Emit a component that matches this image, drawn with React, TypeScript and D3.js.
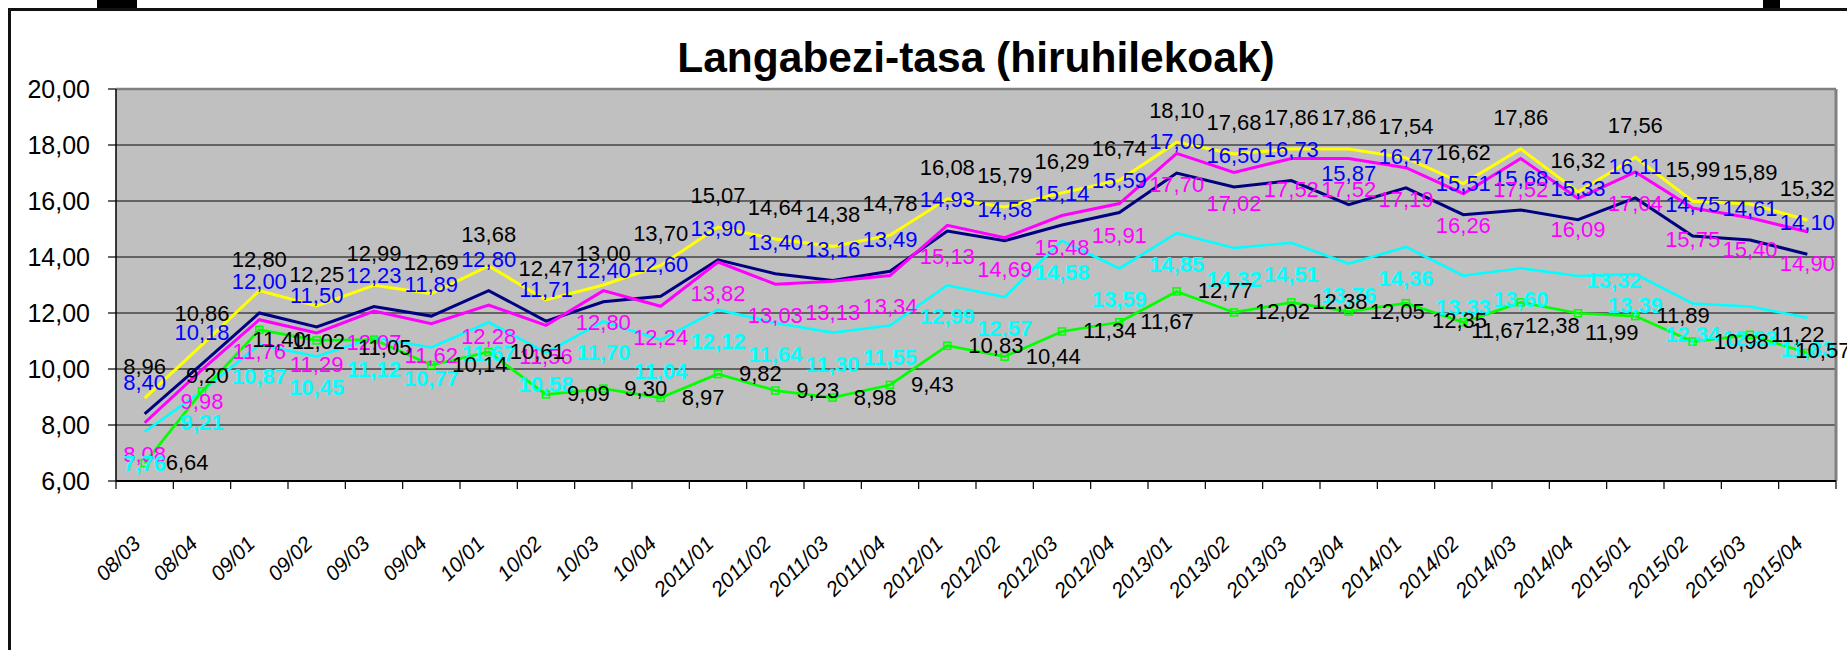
import React from "react";
import * as d3 from "d3";

const categories = ["08/03","08/04","09/01","09/02","09/03","09/04","10/01","10/02","10/03","10/04","2011/01","2011/02","2011/03","2011/04","2012/01","2012/02","2012/03","2012/04","2013/01","2013/02","2013/03","2013/04","2014/01","2014/02","2014/03","2014/04","2015/01","2015/02","2015/03","2015/04"];

const yellowValues = [8.96,10.86,12.80,12.25,12.99,12.69,13.68,12.47,13.00,13.70,15.07,14.64,14.38,14.78,16.08,15.79,16.29,16.74,18.10,17.68,17.86,17.86,17.54,16.62,17.86,16.32,17.56,15.99,15.89,15.32];
const navyValues = [8.40,10.18,12.00,11.50,12.23,11.89,12.80,11.71,12.40,12.60,13.90,13.40,13.16,13.49,14.93,14.58,15.14,15.59,17.00,16.50,16.73,15.87,16.47,15.51,15.68,15.33,16.11,14.75,14.61,14.10];
const magentaValues = [8.08,9.98,11.76,11.29,12.07,11.62,12.28,11.56,12.80,12.24,13.82,13.03,13.13,13.34,15.13,14.69,15.48,15.91,17.70,17.02,17.52,17.52,17.19,16.26,17.52,16.09,17.04,15.75,15.40,14.90];
const cyanValues = [7.76,9.21,10.87,10.45,11.12,10.77,11.67,10.58,11.70,11.04,12.12,11.64,11.30,11.55,12.99,12.57,14.58,13.59,14.85,14.32,14.51,13.76,14.36,13.33,13.60,13.32,13.39,12.34,12.23,11.83];
const greenValues = [6.64,9.20,11.40,11.02,11.05,10.14,10.61,9.09,9.30,8.97,9.82,9.23,8.98,9.43,10.83,10.44,11.34,11.67,12.77,12.02,12.38,12.05,12.35,11.67,12.38,11.99,11.89,10.98,11.22,10.57];

const yTickValues = [6, 8, 10, 12, 14, 16, 18, 20];
const title = "Langabezi-tasa (hiruhilekoak)";

const W = 1847;
const H = 650;
const PL = 116, PR = 1836, PT = 89, PB = 481;
const FONT = "'Liberation Sans', Arial, Helvetica, sans-serif";

// label nudges (position only) for labels that were moved in the original
const greenNudge: Record<number, [number, number]> = {
  1: [-16, -8], 2: [-7, 17], 3: [-25, 9], 4: [-16, 15],
  22: [26, 25], 23: [8, 16], 24: [4, 31], 25: [7, 27], 29: [-12, 5],
};
const cyanNudge: Record<number, [number, number]> = { 25: [36, 12] };

const fmt = (v: number) => v.toFixed(2).replace(".", ",");

export default function App() {
  const x = d3.scaleBand<string>().domain(categories).range([PL, PR]).padding(0);
  const y = d3.scaleLinear().domain([6, 20]).range([PB, PT]);
  const cx = (i: number) => (x(categories[i]) as number) + x.bandwidth() / 2;

  const series = [
    { key: "yellow", values: yellowValues, color: "#FFFF00", width: 3, labelColor: "#000000", bold: false, mode: "above" },
    { key: "navy", values: navyValues, color: "#000080", width: 3, labelColor: "#0000FF", bold: false, mode: "above" },
    { key: "magenta", values: magentaValues, color: "#FF00FF", width: 3, labelColor: "#FF00FF", bold: false, mode: "below" },
    { key: "cyan", values: cyanValues, color: "#00FFFF", width: 2.6, labelColor: "#00FFFF", bold: true, mode: "below" },
    { key: "green", values: greenValues, color: "#00FF00", width: 2.7, labelColor: "#000000", bold: false, mode: "right" },
  ];

  const line = d3.line<number>().x((_, i) => cx(i)).y((d) => y(d));

  const boundaries = d3.range(categories.length + 1).map((i) => PL + i * x.step());

  return (
    <svg width={W} height={H} viewBox={`0 0 ${W} ${H}`}
      style={{ position: "absolute", left: 0, top: 0, display: "block" }}
      fontFamily={FONT}>
      <rect x={0} y={0} width={W} height={H} fill="#ffffff" />
      {/* outer frame */}
      <rect x={97} y={0} width={40} height={8} fill="#000" />
      <rect x={1763} y={0} width={17} height={9} fill="#000" />
      <path d={`M9.5,${H + 5} L9.5,9.5 L${W + 5},9.5`} fill="none" stroke="#111" strokeWidth={3} />

      <text x={976} y={72} textAnchor="middle" fontSize={42.5} fontWeight="bold" fill="#000">{title}</text>

      {/* plot area */}
      <rect x={PL} y={PT} width={PR - PL} height={PB - PT} fill="#C0C0C0" />
      {yTickValues.filter((t) => t > 6 && t < 20).map((t) => (
        <line key={"g" + t} x1={PL} x2={PR} y1={y(t)} y2={y(t)} stroke="#454545" strokeWidth={1.3} />
      ))}
      <line x1={PL} x2={PR} y1={PT} y2={PT} stroke="#808080" strokeWidth={2.5} />
      <line x1={PR} x2={PR} y1={PT} y2={PB} stroke="#808080" strokeWidth={3} />
      <line x1={PL} x2={PL} y1={PT} y2={PB} stroke="#000" strokeWidth={1.5} />
      <line x1={PL} x2={PR} y1={PB} y2={PB} stroke="#000" strokeWidth={2.2} />

      {/* y axis ticks & labels */}
      {yTickValues.map((t) => (
        <g key={"y" + t}>
          <line x1={PL - 8} x2={PL} y1={y(t)} y2={y(t)} stroke="#000" strokeWidth={1.2} />
          <text x={90} y={y(t)} dy="0.36em" textAnchor="end" fontSize={25} fill="#000">{fmt(t)}</text>
        </g>
      ))}

      {/* x axis ticks & labels */}
      {boundaries.map((bx, i) => (
        <line key={"xt" + i} x1={bx} x2={bx} y1={PB} y2={PB + 8} stroke="#000" strokeWidth={1.2} />
      ))}
      {categories.map((c, i) => (
        <text key={"xl" + c} transform={`translate(${cx(i) - 3},${545}) rotate(-45)`}
          textAnchor="end" fontSize={21} fontStyle="italic" fill="#000">{c}</text>
      ))}

      {/* lines */}
      {series.map((s) => (
        <path key={"l" + s.key} d={line(s.values) as string} fill="none" stroke={s.color}
          strokeWidth={s.width} strokeLinejoin="miter" />
      ))}
      {greenValues.map((v, i) => (
        <rect key={"m" + i} x={cx(i) - 3.5} y={y(v) - 3.5} width={7} height={7}
          fill="none" stroke="#00FF00" strokeWidth={1.5} />
      ))}

      {/* data labels */}
      {series.map((s) => s.values.map((v, i) => {
        const px = cx(i);
        const py = y(v);
        let tx = px, ty = py, anchor = "middle";
        if (s.mode === "above") { ty = py - 24; }
        else if (s.mode === "below") {
          ty = py + 39;
          if (s.key === "cyan" && cyanNudge[i]) { tx = px + cyanNudge[i][0]; ty = py + cyanNudge[i][1]; }
        } else {
          anchor = "start";
          const n = greenNudge[i] || [21, 7];
          tx = px + n[0]; ty = py + n[1];
        }
        return (
          <text key={s.key + "t" + i} x={tx} y={ty} textAnchor={anchor} fontSize={22}
            fontWeight={s.bold ? "bold" : "normal"} fill={s.labelColor}>{fmt(v)}</text>
        );
      }))}
    </svg>
  );
}
